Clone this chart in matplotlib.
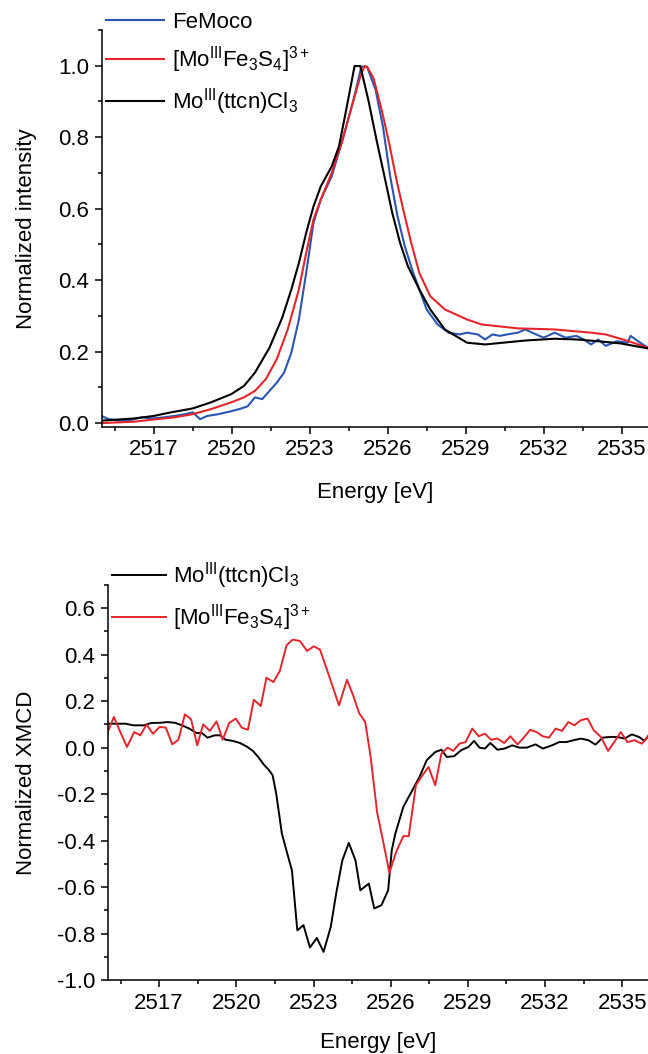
import numpy as np
import matplotlib
matplotlib.use("Agg")
import matplotlib.pyplot as plt
from matplotlib.ticker import MultipleLocator, FormatStrFormatter

plt.rcParams['font.family'] = ['Liberation Sans', 'DejaVu Sans']
plt.rcParams['mathtext.fontset'] = 'custom'
plt.rcParams['mathtext.rm'] = 'Liberation Sans'
plt.rcParams['mathtext.it'] = 'Liberation Sans:italic'
plt.rcParams['mathtext.bf'] = 'Liberation Sans:bold'

# ---- top panel: normalized XAS ----
e_femoco = [2515.02, 2515.27, 2515.69, 2516.12, 2516.54, 2516.96, 2517.38, 2517.80, 2518.22, 2518.50,
            2518.78, 2519.06, 2519.49, 2519.91, 2520.33, 2520.61, 2520.89, 2521.17, 2521.45, 2521.73,
            2522.01, 2522.29, 2522.58, 2522.86, 2523.14, 2523.42, 2523.84, 2524.26, 2524.68, 2524.98,
            2525.20, 2525.53, 2525.81, 2526.09, 2526.37, 2526.65, 2526.93, 2527.21, 2527.49, 2527.91,
            2528.33, 2528.76, 2529.04, 2529.46, 2529.74, 2530.02, 2530.30, 2530.58, 2531.00, 2531.28,
            2531.70, 2531.99, 2532.41, 2532.83, 2533.25, 2533.53, 2533.81, 2534.09, 2534.37, 2534.80,
            2535.22, 2535.33, 2535.62, 2535.99]
femoco = [0.019, 0.011, 0.007, 0.009, 0.016, 0.013, 0.016, 0.020, 0.025, 0.030,
          0.011, 0.020, 0.025, 0.032, 0.040, 0.047, 0.072, 0.067, 0.090, 0.113,
          0.141, 0.197, 0.290, 0.420, 0.560, 0.625, 0.690, 0.793, 0.904, 0.997,
          0.997, 0.932, 0.830, 0.690, 0.579, 0.495, 0.430, 0.374, 0.318, 0.276,
          0.253, 0.248, 0.253, 0.248, 0.234, 0.248, 0.244, 0.248, 0.253, 0.262,
          0.248, 0.239, 0.253, 0.239, 0.244, 0.234, 0.220, 0.234, 0.216, 0.229,
          0.225, 0.244, 0.229, 0.211]

e_mofes = [2515.02, 2516.26, 2517.00, 2517.80, 2518.50, 2519.20, 2519.98, 2520.47, 2520.89, 2521.31,
           2521.73, 2522.15, 2522.58, 2522.86, 2523.14, 2523.42, 2523.84, 2524.26, 2524.68, 2524.94,
           2525.10, 2525.20, 2525.45, 2525.76, 2526.05, 2526.33, 2526.62, 2526.90, 2527.21, 2527.63,
           2528.19, 2529.04, 2529.60, 2531.00, 2532.41, 2533.81, 2534.37, 2535.22, 2535.99]
mofes = [0.000, 0.004, 0.010, 0.016, 0.025, 0.039, 0.058, 0.072, 0.090, 0.123,
         0.179, 0.262, 0.374, 0.476, 0.569, 0.625, 0.700, 0.793, 0.904, 0.969,
         0.999, 0.997, 0.965, 0.877, 0.783, 0.681, 0.588, 0.504, 0.420, 0.355,
         0.318, 0.290, 0.276, 0.265, 0.262, 0.253, 0.248, 0.230, 0.211]

e_ttcn = [2515.02, 2516.26, 2517.00, 2517.66, 2518.50, 2519.20, 2519.98, 2520.47, 2520.89, 2521.45,
          2521.94, 2522.29, 2522.58, 2522.86, 2523.14, 2523.42, 2523.84, 2524.12, 2524.40, 2524.72,
          2524.94, 2525.25, 2525.57, 2525.87, 2526.17, 2526.47, 2526.77, 2527.21, 2527.63, 2528.19,
          2529.04, 2529.74, 2530.44, 2531.28, 2532.41, 2533.25, 2534.09, 2534.94, 2535.99]
ttcn = [0.007, 0.013, 0.020, 0.030, 0.041, 0.058, 0.081, 0.104, 0.141, 0.211,
        0.295, 0.374, 0.448, 0.532, 0.606, 0.662, 0.718, 0.774, 0.877, 0.999,
        0.999, 0.904, 0.790, 0.690, 0.588, 0.504, 0.439, 0.374, 0.318, 0.262,
        0.225, 0.220, 0.225, 0.231, 0.236, 0.234, 0.229, 0.223, 0.209]

# ---- bottom panel: normalized XMCD ----
e_xmcd_ttcn = [2515.00, 2515.35, 2515.70, 2515.99, 2516.41, 2516.69, 2517.04, 2517.33, 2517.61, 2517.89,
               2518.17, 2518.45, 2518.66, 2518.88, 2519.16, 2519.37, 2519.58, 2519.86, 2520.14, 2520.43,
               2520.64, 2520.85, 2521.06, 2521.27, 2521.41, 2521.55, 2521.77, 2521.98, 2522.16, 2522.37,
               2522.61, 2522.86, 2523.13, 2523.39, 2523.67, 2523.88, 2524.12, 2524.37, 2524.63, 2524.82,
               2525.15, 2525.36, 2525.64, 2525.90, 2526.04, 2526.18, 2526.49, 2526.77, 2527.12, 2527.40,
               2527.73, 2527.97, 2528.18, 2528.46, 2528.74, 2529.02, 2529.24, 2529.45, 2529.66, 2529.87,
               2530.15, 2530.43, 2530.72, 2531.00, 2531.28, 2531.63, 2531.91, 2532.27, 2532.55, 2532.83,
               2533.11, 2533.39, 2533.68, 2533.96, 2534.24, 2534.52, 2534.80, 2535.09, 2535.37, 2535.65,
               2535.86, 2536.00]
xmcd_ttcn = [0.103, 0.103, 0.103, 0.096, 0.096, 0.106, 0.107, 0.110, 0.107, 0.096,
             0.082, 0.063, 0.063, 0.043, 0.053, 0.053, 0.034, 0.029, 0.020, 0.003,
             -0.014, -0.040, -0.072, -0.097, -0.119, -0.198, -0.370, -0.456, -0.528, -0.786,
             -0.764, -0.860, -0.819, -0.879, -0.771, -0.628, -0.485, -0.410, -0.485, -0.614,
             -0.585, -0.692, -0.678, -0.614, -0.442, -0.370, -0.255, -0.198, -0.126, -0.054,
             -0.019, -0.009, -0.040, -0.037, -0.011, 0.003, 0.029, 0.000, -0.004, 0.020,
             -0.009, -0.004, 0.010, 0.000, 0.000, 0.014, -0.004, 0.010, 0.024, 0.024,
             0.032, 0.039, 0.032, 0.013, 0.043, 0.046, 0.046, 0.039, 0.057, 0.046,
             0.029, 0.049]

e_xmcd_mofes = [2515.00, 2515.24, 2515.49, 2515.75, 2516.03, 2516.27, 2516.51, 2516.76, 2517.02, 2517.26,
                2517.51, 2517.75, 2518.00, 2518.24, 2518.48, 2518.71, 2518.97, 2519.23, 2519.47, 2519.72,
                2519.98, 2520.21, 2520.45, 2520.68, 2520.95, 2521.17, 2521.44, 2521.69, 2521.95, 2522.19,
                2522.47, 2522.75, 2523.01, 2523.25, 2523.53, 2523.77, 2523.99, 2524.30, 2524.54, 2524.77,
                2525.01, 2525.22, 2525.47, 2525.71, 2525.95, 2526.21, 2526.49, 2526.70, 2526.98, 2527.19,
                2527.47, 2527.73, 2527.97, 2528.21, 2528.43, 2528.67, 2528.91, 2529.17, 2529.42, 2529.66,
                2529.90, 2530.15, 2530.41, 2530.65, 2530.93, 2531.17, 2531.42, 2531.67, 2531.91, 2532.15,
                2532.41, 2532.66, 2532.90, 2533.14, 2533.39, 2533.65, 2533.89, 2534.17, 2534.45, 2534.69,
                2534.94, 2535.20, 2535.48, 2535.76, 2536.00]
xmcd_mofes = [0.067, 0.132, 0.067, 0.003, 0.067, 0.053, 0.100, 0.060, 0.089, 0.086,
              0.014, 0.034, 0.143, 0.122, 0.010, 0.100, 0.072, 0.113, 0.034, 0.106,
              0.125, 0.086, 0.077, 0.206, 0.179, 0.301, 0.282, 0.330, 0.440, 0.465,
              0.459, 0.416, 0.436, 0.422, 0.333, 0.254, 0.182, 0.292, 0.225, 0.149,
              0.110, -0.040, -0.277, -0.406, -0.539, -0.449, -0.381, -0.381, -0.162, -0.126,
              -0.083, -0.162, -0.026, 0.000, -0.014, 0.017, 0.024, 0.082, 0.049, 0.060,
              0.034, 0.039, 0.020, 0.049, 0.014, 0.043, 0.077, 0.067, 0.049, 0.043,
              0.082, 0.072, 0.110, 0.096, 0.118, 0.125, 0.075, 0.046, -0.014, 0.024,
              0.067, 0.024, 0.032, 0.017, 0.046]

lbl_femoco = 'FeMoco'
lbl_mofes = r'[Mo$^{\mathrm{III}}$Fe$_3$S$_4$]$^{3+}$'
lbl_ttcn = r'Mo$^{\mathrm{III}}$(ttcn)Cl$_3$'

BLUE = '#2b56b0'
RED = '#e3262b'
BLACK = '#000000'
FS = 16


def style_axis(ax):
    for side in ('top', 'right'):
        ax.spines[side].set_visible(False)
    for side in ('left', 'bottom'):
        ax.spines[side].set_linewidth(1.1)
    ax.xaxis.set_major_locator(MultipleLocator(3))
    ax.xaxis.set_minor_locator(MultipleLocator(1.5))
    ax.yaxis.set_major_locator(MultipleLocator(0.2))
    ax.yaxis.set_minor_locator(MultipleLocator(0.1))
    ax.yaxis.set_major_formatter(FormatStrFormatter('%.1f'))
    ax.xaxis.set_major_formatter(FormatStrFormatter('%d'))
    ax.tick_params(which='major', direction='out', length=5, width=1.1, labelsize=FS, pad=4)
    ax.tick_params(which='minor', direction='out', length=3, width=1.1)
    ax.set_xlim(2515.0, 2536.0)


fig = plt.figure(figsize=(6.48, 10.54), dpi=100)

ax1 = fig.add_axes([101.7 / 648, 0.5952, 1 - 101.7 / 648, 0.3764])
ax1.plot(e_femoco, femoco, color=BLUE, lw=1.5, label=lbl_femoco)
ax1.plot(e_mofes, mofes, color=RED, lw=1.5, label=lbl_mofes)
ax1.plot(e_ttcn, ttcn, color=BLACK, lw=1.5, label=lbl_ttcn)
style_axis(ax1)
ax1.set_ylim(-0.01, 1.1)
ax1.set_xlabel('Energy [eV]', fontsize=FS, labelpad=16)
ax1.set_ylabel('Normalized intensity', fontsize=FS, labelpad=15)
ax1.legend(loc='upper left', bbox_to_anchor=(106 / 648, 1 - 12 / 1054),
           bbox_transform=fig.transFigure, frameon=False, fontsize=FS,
           handlelength=2.6, handletextpad=0.36, borderaxespad=0, borderpad=0,
           labelspacing=0.5)

ax2 = fig.add_axes([107.7 / 648, 0.0702, 1 - 107.7 / 648, 0.3748])
ax2.plot(e_xmcd_ttcn, xmcd_ttcn, color=BLACK, lw=1.4, label=lbl_ttcn)
ax2.plot(e_xmcd_mofes, xmcd_mofes, color=RED, lw=1.4, label=lbl_mofes)
style_axis(ax2)
ax2.set_ylim(-1.0, 0.7)
ax2.set_xlabel('Energy [eV]', fontsize=FS, labelpad=13)
ax2.set_ylabel('Normalized XMCD', fontsize=FS, labelpad=14)
ax2.legend(loc='upper left', bbox_to_anchor=(112 / 648, 1 - 560 / 1054),
           bbox_transform=fig.transFigure, frameon=False, fontsize=FS,
           handlelength=2.45, handletextpad=0.3, borderaxespad=0, borderpad=0,
           labelspacing=0.5)

fig.savefig('out.png', dpi=100)
